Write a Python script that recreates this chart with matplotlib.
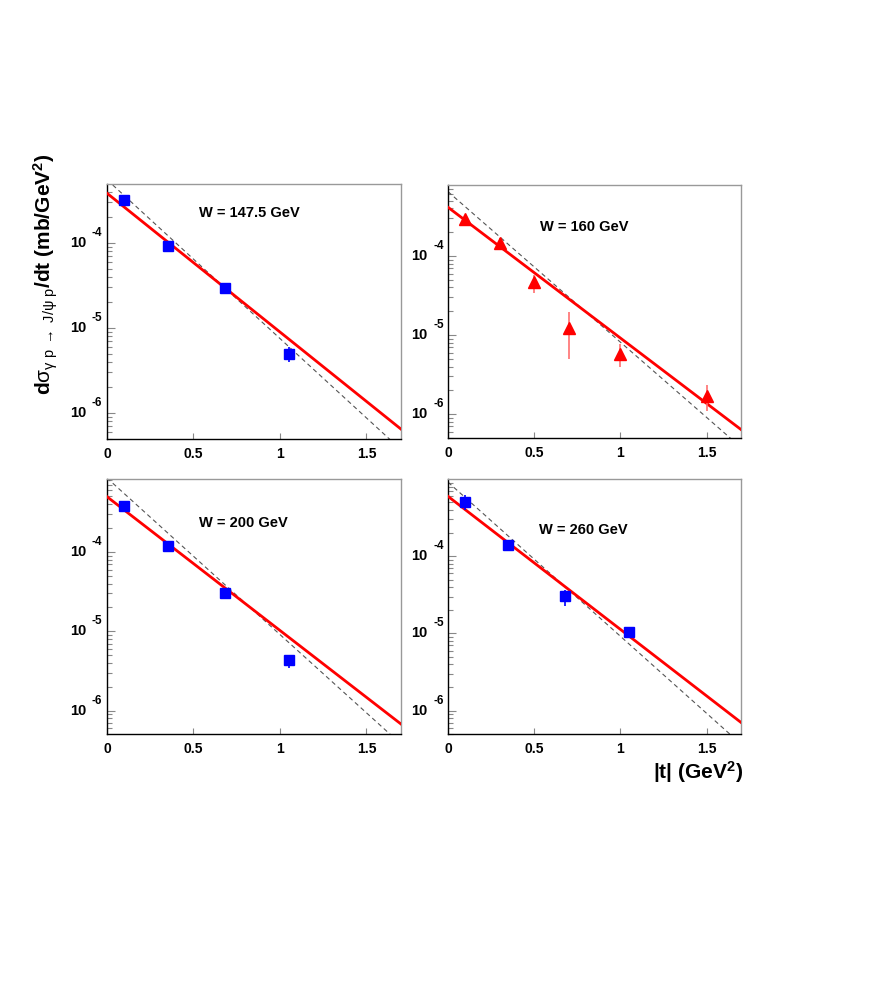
import matplotlib
matplotlib.use("Agg")
import matplotlib.pyplot as plt
import matplotlib.transforms as mtransforms
from matplotlib.ticker import LogLocator, FixedLocator, NullFormatter
import numpy as np

plt.rcParams['font.family'] = ['Liberation Sans', 'DejaVu Sans']
plt.rcParams['mathtext.fontset'] = 'custom'
plt.rcParams['mathtext.rm'] = 'Liberation Sans'
plt.rcParams['mathtext.bf'] = 'Liberation Sans:bold'
plt.rcParams['mathtext.it'] = 'Liberation Sans:italic'
plt.rcParams['mathtext.sf'] = 'Liberation Sans'
plt.rcParams['mathtext.default'] = 'regular'

# ---------------- data ----------------
titles = ["W = 147.5 GeV", "W = 160 GeV", "W = 200 GeV", "W = 260 GeV"]

# W = 147.5 GeV
t_1475 = [0.10, 0.35, 0.68, 1.05]
v_1475 = [3.2e-4, 9.3e-5, 2.93e-5, 4.94e-6]
lo_1475 = [3.0e-4, 8.8e-5, 2.8e-5, 4.0e-6]
hi_1475 = [3.4e-4, 9.8e-5, 3.06e-5, 6.0e-6]

# W = 160 GeV
t_160 = [0.1, 0.3, 0.5, 0.7, 1.0, 1.5]
v_160 = [2.94e-4, 1.45e-4, 4.73e-5, 1.24e-5, 5.75e-6, 1.69e-6]
lo_160 = [2.6e-4, 1.25e-4, 3.45e-5, 4.97e-6, 3.9e-6, 1.1e-6]
hi_160 = [3.3e-4, 1.7e-4, 5.75e-5, 1.97e-5, 7.7e-6, 2.33e-6]

# W = 200 GeV
t_200 = [0.10, 0.35, 0.68, 1.05]
v_200 = [3.8e-4, 1.19e-4, 3.07e-5, 4.3e-6]
lo_200 = [3.6e-4, 1.13e-4, 2.9e-5, 3.5e-6]
hi_200 = [4.0e-4, 1.25e-4, 3.25e-5, 5.1e-6]

# W = 260 GeV
t_260 = [0.10, 0.35, 0.68, 1.05]
v_260 = [4.98e-4, 1.39e-4, 3.05e-5, 1.05e-5]
lo_260 = [4.0e-4, 1.28e-4, 2.24e-5, 9.2e-6]
hi_260 = [6.2e-4, 1.5e-4, 3.7e-5, 1.2e-5]

# solid red curves: values at |t| = 0 and 1.7
line_t = [0.0, 1.7]
red_1475 = [3.85e-4, 6.45e-7]
red_160 = [4.13e-4, 6.4e-7]
red_200 = [4.97e-4, 6.8e-7]
red_260 = [5.96e-4, 7.05e-7]
# dashed curves: values at |t| = 0 and 1.7
dash_1475 = [5.55e-4, 3.7e-7]
dash_160 = [6.5e-4, 3.8e-7]
dash_200 = [8.55e-4, 3.8e-7]
dash_260 = [9.1e-4, 3.7e-7]

ylims = [(4.94e-7, 4.94e-4), (5.0e-7, 7.9e-4), (5.1e-7, 8.3e-4), (5.0e-7, 1.0e-3)]
y_major = [1e-6, 1e-5, 1e-4]
y_exponents = ["-6", "-5", "-4"]
x_major = [0, 0.5, 1, 1.5]
x_labels = ["0", "0.5", "1", "1.5"]

panels = [
    (t_1475, v_1475, lo_1475, hi_1475, red_1475, dash_1475, 'blue', 's'),
    (t_160, v_160, lo_160, hi_160, red_160, dash_160, 'red', '^'),
    (t_200, v_200, lo_200, hi_200, red_200, dash_200, 'blue', 's'),
    (t_260, v_260, lo_260, hi_260, red_260, dash_260, 'blue', 's'),
]

# axes rectangles [left, bottom, width, height] (figure fraction)
rects = [
    [0.1227, 0.5525, 0.3372, 0.2599],
    [0.5138, 0.5535, 0.3360, 0.2579],
    [0.1227, 0.2518, 0.3372, 0.2599],
    [0.5138, 0.2518, 0.3360, 0.2599],
]
title_pos = [(0.483, 0.886), (0.464, 0.835), (0.463, 0.829), (0.461, 0.800)]

fig = plt.figure(figsize=(8.72, 9.81), dpi=100)

for i, (rect, pan) in enumerate(zip(rects, panels)):
    t, v, lo, hi, red, dash, col, mk = pan
    ax = fig.add_axes(rect)
    ax.set_yscale('log')
    ax.set_xlim(0, 1.7)
    ax.set_ylim(*ylims[i])
    v = np.array(v); lo = np.array(lo); hi = np.array(hi)
    ecol = '#ff7070' if col == 'red' else 'blue'
    ax.plot(line_t, dash, color='#555555', lw=0.8, ls=(0, (4, 3)), zorder=2)
    ax.plot(line_t, red, color='red', lw=2.0, zorder=3)
    ax.errorbar(t, v, yerr=[v - lo, hi - v], fmt='none', ecolor=ecol,
                elinewidth=1.2, capsize=0, zorder=4)
    ax.plot(t, v, ls='none', marker=mk, ms=7.5 if mk == 's' else 8,
            color=col, mec=col, zorder=5)
    ax.text(title_pos[i][0], title_pos[i][1], titles[i], transform=ax.transAxes,
            ha='center', va='center', fontsize=10.5, fontweight='bold')

    ax.yaxis.set_major_locator(FixedLocator(y_major))
    ax.yaxis.set_major_formatter(NullFormatter())
    ax.yaxis.set_minor_locator(LogLocator(base=10, subs=np.arange(2, 10)))
    ax.yaxis.set_minor_formatter(NullFormatter())
    # ROOT-style "10  -4" labels
    blend = mtransforms.blended_transform_factory(ax.transAxes, ax.transData)
    base_tr = blend + mtransforms.ScaledTranslation(-0.21, 0.0, fig.dpi_scale_trans)
    exp_tr = blend + mtransforms.ScaledTranslation(-0.15, 0.10, fig.dpi_scale_trans)
    for yv, ex in zip(y_major, y_exponents):
        ax.text(0, yv, "10", transform=base_tr, ha='right', va='center',
                fontsize=10.5, fontweight='bold')
        ax.text(0, yv, ex, transform=exp_tr, ha='left', va='center',
                fontsize=8.5, fontweight='bold')

    ax.set_xticks(x_major)
    ax.set_xticklabels(x_labels)
    ax.tick_params(axis='y', which='major', direction='in', length=6, width=0.8,
                   color='#888888', left=True, right=False)
    ax.tick_params(axis='y', which='minor', direction='in', length=3.5, width=0.8,
                   color='#888888', left=True, right=False)
    ax.tick_params(axis='x', which='major', direction='in', length=4, width=0.8,
                   color='#888888', labelsize=10, pad=6, bottom=True, top=False)
    ax.tick_params(axis='x', which='minor', bottom=False, top=False)
    for lab in ax.get_xticklabels():
        lab.set_fontweight('bold')
    for s in ['left', 'bottom']:
        ax.spines[s].set_color('black')
        ax.spines[s].set_linewidth(1.0)
    for s in ['top', 'right']:
        ax.spines[s].set_color('#999999')
        ax.spines[s].set_linewidth(1.0)

fig.text(0.052, 0.72,
         r"$\mathbf{d}\sigma_{\gamma\ p\ \rightarrow\ J/\psi\ p}\mathbf{/dt\ (mb/GeV^{2})}$",
         rotation=90, ha='center', va='center', fontsize=15)
fig.text(0.80, 0.213, r"$\mathbf{|t|\ (GeV^{2})}$", ha='center', va='center', fontsize=15)

fig.savefig("out.png", dpi=100)
